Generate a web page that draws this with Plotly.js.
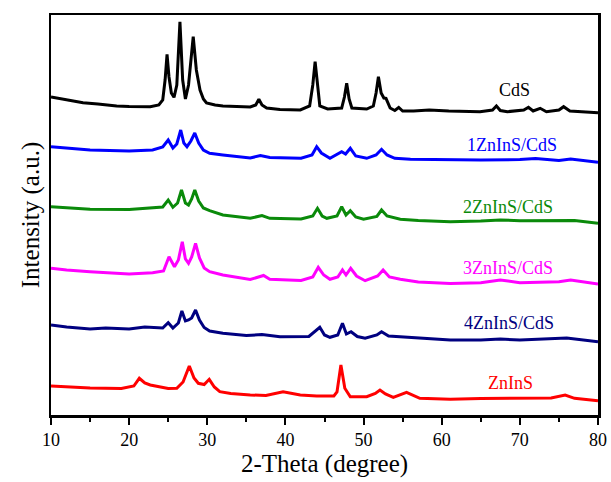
<!DOCTYPE html>
<html>
<head>
<meta charset="utf-8">
<script src="https://cdn.plot.ly/plotly-3.0.1.min.js"></script>
<style>
html,body{margin:0;padding:0;background:#fff;}
#chart{width:611px;height:482px;}
#chart svg text{font-family:"Liberation Serif" !important;}
</style>
</head>
<body>
<div id="chart"></div>
<script>
// Series names and colours
const seriesNames = ["CdS", "1ZnInS/CdS", "2ZnInS/CdS", "3ZnInS/CdS", "4ZnInS/CdS", "ZnInS"];
const seriesColors = ["#000000", "#0000ff", "#0a8a0a", "#ff00ff", "#000080", "#ff0000"];

// 2-Theta positions and (vertically offset) intensities
const xCdS = [10, 12, 14.1, 16, 18.4, 20, 22.7, 23.8, 24.3, 24.6, 24.85, 25.1, 25.4, 25.74, 26.1, 26.5, 26.85, 27.2, 27.6, 28.2, 28.6, 29.07, 29.5, 29.9, 31, 32, 35.5, 36.2, 36.6, 37.0, 37.6, 39.3, 41.9, 43.1, 43.5, 43.8, 44.1, 44.4, 45.4, 47.2, 47.55, 47.84, 48.15, 48.5, 50.4, 51.25, 51.6, 51.9, 52.25, 52.6, 52.87, 53.4, 54.0, 54.5, 55, 56.4, 58.4, 60.9, 64.9, 66.5, 67.0, 67.5, 68.4, 70.5, 71.1, 71.7, 72.6, 73.4, 75.0, 75.6, 76.4, 78, 80];
const yCdS = [318, 315, 312.3, 311, 309, 308.5, 308.3, 310, 315, 335, 360.7, 338, 322, 317.7, 330, 393.3, 335, 316, 330, 378.3, 345, 325, 316, 312, 310, 309, 308, 310, 315.7, 310, 307, 305.5, 305, 309, 330, 353.3, 330, 309, 306, 307, 318, 331.7, 316, 307, 306, 309, 322, 338.3, 322, 317, 316.7, 307, 304.5, 307.5, 304, 304, 305, 304, 303.3, 305, 309, 304.5, 303.3, 305, 307.7, 304, 306.7, 303.3, 305, 308.3, 304, 303, 302.3];

const x1Zn = [10, 12, 15, 20, 23, 24.3, 25.0, 25.6, 26.1, 26.6, 27.0, 27.4, 27.9, 28.4, 28.9, 29.5, 30.3, 32, 35.5, 36.8, 38, 42, 43.4, 44.0, 44.6, 45.7, 47.2, 47.7, 48.3, 49, 50.4, 51.6, 52.3, 53, 54, 56, 60.6, 65, 70, 72, 75, 76.5, 80];
const y1Zn = [268.3, 267, 265, 264, 265, 268, 275, 267, 271, 285, 272, 268.3, 274, 282, 272, 265, 261.7, 260, 257, 259.5, 257.5, 256.7, 260, 268.3, 262, 256.7, 263.3, 261, 266.7, 259, 256.7, 260, 265.7, 260, 256.7, 255.7, 255, 255, 255.5, 256.5, 254.5, 256, 252.7];

const x2Zn = [10, 12, 15, 20, 23, 24.3, 25.0, 25.6, 26.2, 26.7, 27.2, 27.6, 28.0, 28.4, 28.9, 29.5, 30.3, 32, 35.5, 37, 38, 42, 43.5, 44.1, 44.7, 45.3, 46.6, 47.2, 47.75, 48.3, 49, 50, 51.7, 52.3, 53, 54.7, 57, 61.1, 65, 67.5, 70, 75, 77, 80];
const y2Zn = [208.3, 207, 205.7, 205.5, 207, 208, 215, 207.7, 212, 225, 212, 210, 216, 225, 214, 207, 204.3, 200, 196.7, 199.5, 196.7, 196, 199, 206.7, 199, 196.7, 199, 208.3, 200, 204.3, 198, 195.7, 198.5, 205, 199, 195.7, 194.5, 193.3, 194, 195, 194.3, 194.5, 194.5, 191.7];

const x3Zn = [10, 12, 15, 20, 23, 24.4, 25.1, 25.8, 26.3, 26.8, 27.2, 27.6, 28.0, 28.5, 29.0, 29.6, 30.3, 32, 35.5, 37.2, 38, 42, 43.5, 44.2, 44.9, 45.7, 46.7, 47.3, 47.75, 48.35, 49.1, 50.2, 51.8, 52.5, 53.3, 54.7, 57, 61.1, 65, 67.5, 70, 75, 76.5, 80];
const y3Zn = [146.7, 145, 143.3, 141, 142.3, 144, 158.3, 148.3, 155, 173.3, 156, 151.7, 158, 171.7, 157, 147, 143.3, 140, 135.5, 139.5, 135.7, 134.5, 138, 147.7, 140, 135.7, 138, 145, 140, 146.7, 139, 134.3, 139, 145, 138, 135.7, 133, 131.5, 132.3, 135, 132.3, 133.3, 135, 131];

const x4Zn = [10, 12, 15, 17, 20, 22, 24.3, 25.0, 25.6, 26.3, 26.75, 27.2, 27.6, 28.0, 28.5, 29.0, 29.6, 30.3, 32, 35, 37, 39.3, 43, 44.4, 45.0, 45.7, 46.7, 47.3, 47.8, 48.4, 49.2, 50.2, 51.7, 52.3, 53.2, 54.7, 57, 61.1, 65, 67.5, 70, 76, 80];
const y4Zn = [90, 88, 86, 87, 86, 88, 87, 92.3, 87, 92, 104, 94, 95, 97, 105, 95, 87.5, 84, 81.7, 79.5, 80.5, 78.3, 78.5, 87.7, 80, 77.7, 80, 91.7, 81, 83.3, 78.5, 76.7, 80, 83.3, 79, 78.3, 76.5, 75, 75, 76, 75, 77, 73.3];

const xZnInS = [10, 12, 15, 19, 20.6, 21.3, 22, 22.7, 25, 26.1, 26.9, 27.7, 28.3, 28.85, 29.6, 30.25, 30.9, 31.6, 33, 35.5, 37.5, 39.7, 41.9, 44, 46.2, 46.6, 47.1, 47.6, 48.3, 50.4, 51.5, 52.1, 52.8, 53.8, 55.5, 57.2, 61.1, 65, 70, 74, 75.8, 77, 80];
const yZnInS = [29, 28, 27, 26.5, 29, 36.7, 32, 30, 26.5, 26.7, 33, 49, 37, 31.7, 30.5, 35.7, 28, 23.3, 21.5, 20, 19.5, 23.3, 20, 19, 19, 23, 50, 26.7, 18.3, 18.3, 21.5, 25, 21, 17.7, 22.7, 16.7, 15.7, 16.5, 16.5, 17, 20, 16.7, 14.3];

// Label anchor positions (2-Theta, intensity)
const labelX = [69.25, 69.0, 68.5, 68.5, 68.6, 68.8];
const labelY = [325, 270, 208.3, 146.7, 91.7, 32.3];

// Tick values
const xTickVals = [10, 20, 30, 40, 50, 60, 70, 80];
const xMinorTickVals = [15, 25, 35, 45, 55, 65, 75];

const xs = [xCdS, x1Zn, x2Zn, x3Zn, x4Zn, xZnInS];
const ys = [yCdS, y1Zn, y2Zn, y3Zn, y4Zn, yZnInS];

const serifFont = "Liberation Serif";

const traces = seriesNames.map((n, i) => ({
  type: "scatter", mode: "lines", name: n,
  x: xs[i], y: ys[i],
  line: {color: seriesColors[i], width: 3}
}));

const annotations = seriesNames.map((n, i) => ({
  x: labelX[i], y: labelY[i], xref: "x", yref: "y",
  text: n, showarrow: false,
  font: {family: serifFont, size: 18, color: seriesColors[i]},
  xanchor: "center", yanchor: "middle"
}));

const layout = {
  width: 611, height: 482,
  margin: {l: 51, r: 13, t: 15, b: 67},
  showlegend: false,
  font: {family: serifFont},
  xaxis: {
    range: [10, 80], tickmode: "array", tickvals: xTickVals, ticktext: xTickVals.map(String),
    ticks: "outside", ticklen: 7, tickwidth: 2, tickcolor: "#000000",
    minor: {tickmode: "array", tickvals: xMinorTickVals, ticks: "outside", ticklen: 4, tickwidth: 2, tickcolor: "#000000", showgrid: false},
    showline: true, linewidth: 2.5, linecolor: "#000000", mirror: true,
    showgrid: false, zeroline: false,
    tickfont: {family: serifFont, size: 18, color: "#000000"},
    title: {text: "2-Theta (degree)", font: {family: serifFont, size: 25, color: "#000000"}, standoff: 4}
  },
  yaxis: {
    range: [0, 400], showticklabels: false, ticks: "",
    showline: true, linewidth: 2.5, linecolor: "#000000", mirror: true,
    showgrid: false, zeroline: false,
    title: {text: "Intensity (a.u.)", font: {family: serifFont, size: 25, color: "#000000"}, standoff: 2}
  },
  annotations: annotations
};

Plotly.newPlot("chart", traces, layout, {staticPlot: true, displayModeBar: false});
</script>
</body>
</html>
